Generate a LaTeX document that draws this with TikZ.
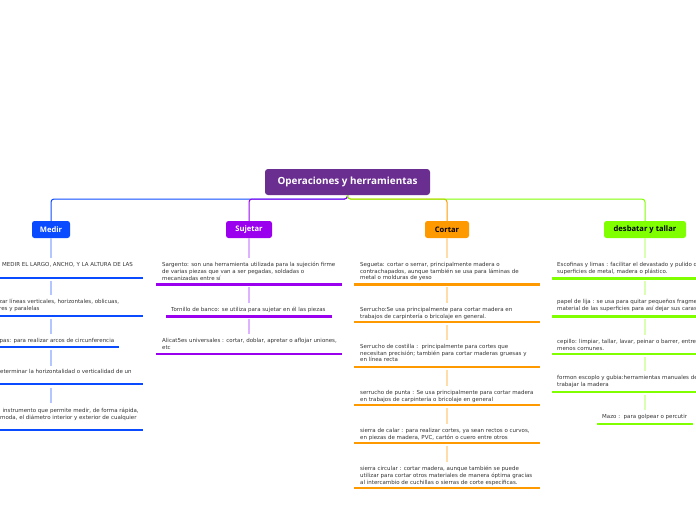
\documentclass[tikz,border=0pt]{standalone}
\usepackage{fontspec}
\setmainfont{DejaVu Sans}
\newfontfamily\labfont{Open Sans}
\definecolor{rootc}{HTML}{6A2E90}
\definecolor{bluec}{HTML}{0A4BFF}
\definecolor{bluel}{HTML}{B3C6FF}
\definecolor{purplec}{HTML}{9A00EE}
\definecolor{purplel}{HTML}{DDB3FF}
\definecolor{orangec}{HTML}{FF9900}
\definecolor{orangel}{HTML}{FFDDAA}
\definecolor{greenc}{HTML}{80FF00}
\definecolor{greenl}{HTML}{D9FFB3}
\definecolor{txtc}{HTML}{333333}
\begin{document}
\begin{tikzpicture}[x=1pt,y=-1pt,
  rootbox/.style={fill=rootc, rounded corners=3pt, minimum width=165pt, minimum height=26pt, text=white, inner sep=0pt, font=\labfont\bfseries\fontsize{9.9}{11}\selectfont},
  childbox/.style={rounded corners=2.5pt, minimum height=17pt, inner sep=0pt, font=\labfont\bfseries\fontsize{7.6}{9}\selectfont},
  itemtext/.style={anchor=north west, inner sep=0pt, align=left, text=txtc, font=\fontsize{5.5}{6.6}\selectfont},
  ul/.style={line width=2.6pt},
  conn/.style={line width=1pt, rounded corners=3pt},
  vl/.style={line width=1.2pt}]
\useasboundingbox (0,0) rectangle (696,520);
\clip (0,0) rectangle (696,520);

% root and children
\node[rootbox] (root) at (347.5,182) {Operaciones y herramientas};
\coordinate (jn) at (347.5,199);
\node[childbox, fill=bluec, text=white, minimum width=38pt] (medir) at (51,229.5) {Medir};
\node[childbox, fill=purplec, text=white, minimum width=46pt] (sujetar) at (249,229.5) {Sujetar};
\node[childbox, fill=orangec, text=black, minimum width=44pt] (cortar) at (447,229.5) {Cortar};
\node[childbox, fill=greenc, text=black, minimum width=82pt] (desb) at (645,229.5) {desbatar y tallar};

\draw[conn, bluec] (root.south) -- (jn) -| (medir.north);
\draw[conn, orangec] (root.south) -- (jn) -| (cortar.north);
\draw[conn, purplec] (root.south) -- (jn) -| (sujetar.north);
\draw[conn, greenc] (root.south) -- (jn) -| (desb.north);

% ---------- Medir ----------
\node[itemtext] (m1) at (2,262.3) {MEDIR EL LARGO, ANCHO, Y LA ALTURA DE LAS};
\draw[ul, bluec] (0,278) -- (143,278);
\node[itemtext] (m2) at (-1,299.3) {zar líneas verticales, horizontales, oblicuas,\\res y paralelas};
\draw[ul, bluec] (0,316) -- (143,316);
\node[itemtext] (m3) at (-0.5,338.3) {pas: para realizar arcos de circunferencia};
\draw[ul, bluec] (0,347) -- (119,347);
\node[itemtext] (m4) at (0,369.3) {eterminar la horizontalidad o verticalidad de un};
\draw[ul, bluec] (0,384) -- (143,384);
\node[itemtext] (m5) at (0,408.3) {\hspace*{2.5pt}instrumento que permite medir, de forma rápida,\\moda, el diámetro interior y exterior de cualquier};
\draw[ul, bluec] (0,430) -- (143,430);
\draw[vl, bluel] (medir.south) -- (51,258);
\draw[vl, bluel] (51,281) -- (51,295);
\draw[vl, bluel] (51,319) -- (51,334);
\draw[vl, bluel] (51,350) -- (51,366);
\draw[vl, bluel] (51,388) -- (51,403);

% ---------- Sujetar ----------
\node[itemtext] (s1) at (162,262.3) {Sargento: son una herramienta utilizada para la sujeción firme\\de varias piezas que van a ser pegadas, soldadas o\\mecanizadas entre sí};
\draw[ul, purplec] (156,284.5) -- (342,284.5);
\node[itemtext] (s2) at (171,307.3) {Tornillo de banco: se utiliza para sujetar en él las piezas};
\draw[ul, purplec] (166,316.5) -- (332,316.5);
\node[itemtext] (s3) at (162,338.3) {Alicat5es universales : cortar, doblar, apretar o aflojar uniones,\\etc};
\draw[ul, purplec] (156,354) -- (342,354);
\draw[vl, purplel] (sujetar.south) -- (249,258);
\draw[vl, purplel] (249,287) -- (249,303);
\draw[vl, purplel] (249,319) -- (249,334);

% ---------- Cortar ----------
\node[itemtext] (c1) at (360,262.3) {Segueta: cortar o serrar, principalmente madera o\\contrachapados, aunque también se usa para láminas de\\metal o molduras de yeso};
\draw[ul, orangec] (354,284.5) -- (540,284.5);
\node[itemtext] (c2) at (360,307.3) {Serrucho:Se usa principalmente para cortar madera en\\trabajos de carpintería o bricolaje en general.};
\draw[ul, orangec] (354,322) -- (540,322);
\node[itemtext] (c3) at (360,344.3) {Serrucho de costilla :\ \ principalmente para cortes que\\necesitan precisión; también para cortar maderas gruesas y\\en línea recta};
\draw[ul, orangec] (354,367) -- (540,367);
\node[itemtext] (c4) at (360,390.3) {serrucho de punta : Se usa principalmente para cortar madera\\en trabajos de carpintería o bricolaje en general};
\draw[ul, orangec] (354,405) -- (540,405);
\node[itemtext] (c5) at (360,428.3) {sierra de calar : para realizar cortes, ya sean rectos o curvos,\\en piezas de madera, PVC, cartón o cuero entre otros};
\draw[ul, orangec] (354,443) -- (540,443);
\node[itemtext] (c6) at (360,466.3) {sierra circular : cortar madera, aunque también se puede\\utilizar para cortar otros materiales de manera óptima gracias\\al intercambio de cuchillas o sierras de corte específicas.};
\draw[ul, orangec] (354,488) -- (540,488);
\draw[vl, orangel] (cortar.south) -- (447,258);
\draw[vl, orangel] (447,287) -- (447,303);
\draw[vl, orangel] (447,325) -- (447,340);
\draw[vl, orangel] (447,370) -- (447,386);
\draw[vl, orangel] (447,408) -- (447,424);
\draw[vl, orangel] (447,446) -- (447,462);

% ---------- desbatar y tallar ----------
\node[itemtext] (d1) at (557,262.3) {Escofinas y limas : facilitar el devastado y pulido de\\superficies de metal, madera o plástico.};
\draw[ul, greenc] (552,278.5) -- (700,278.5);
\node[itemtext] (d2) at (557,299.3) {papel de lija : se usa para quitar pequeños fragmentos\\material de las superficies para así dejar sus caras};
\draw[ul, greenc] (552,316.5) -- (700,316.5);
\node[itemtext] (d3) at (557,339.3) {cepillo: limpiar, tallar, lavar, peinar o barrer, entre otros\\menos comunes.};
\draw[ul, greenc] (552,354) -- (700,354);
\node[itemtext] (d4) at (557,375.3) {formon escoplo y gubia:herramientas manuales de\\trabajar la madera};
\draw[ul, greenc] (552,392) -- (700,392);
\node[itemtext] (d5) at (602,414.3) {Mazo :\ \ para golpear o percutir};
\draw[ul, greenc] (597,424) -- (693,424);
\draw[vl, greenl] (desb.south) -- (645,258);
\draw[vl, greenl] (645,281) -- (645,295);
\draw[vl, greenl] (645,319) -- (645,335);
\draw[vl, greenl] (645,357) -- (645,371);
\draw[vl, greenl] (645,395) -- (645,410);
\end{tikzpicture}
\end{document}
